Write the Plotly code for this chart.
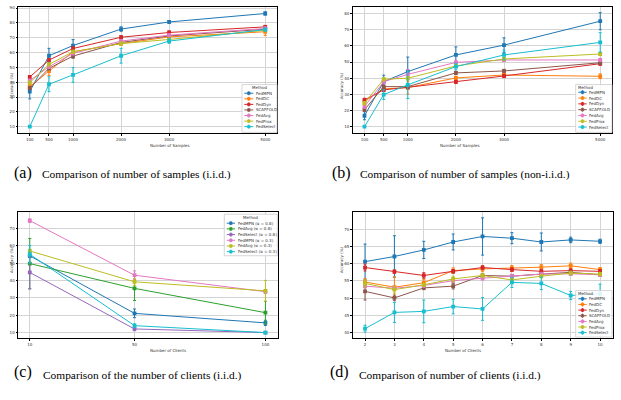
import plotly.graph_objects as go
from plotly.subplots import make_subplots

W, H = 621, 400

# ---------------- data ----------------
methods = ["FedMPN", "FedDC", "FedDyn", "SCAFFOLD", "FedAvg", "FedProx", "FedSelect"]
method_colors = ["#1f77b4", "#ff7f0e", "#d62728", "#8c564b", "#e377c2", "#bcbd22", "#17becf"]

samples = [100, 500, 1000, 2000, 3000, 5000]
sample_ticks = ["100", "500", "1000", "2000", "3000", "5000"]

# (a) i.i.d.
a_vals = {
    "FedMPN":    [33.7, 57.8, 64.7, 75.8, 80.6, 86.3],
    "FedDC":     [37.0, 47.5, 60.5, 66.0, 70.5, 74.0],
    "FedDyn":    [43.5, 54.9, 62.7, 70.3, 73.5, 77.3],
    "SCAFFOLD":  [36.0, 49.3, 57.6, 66.8, 71.2, 75.7],
    "FedAvg":    [41.0, 50.4, 59.4, 67.7, 71.7, 76.2],
    "FedProx":   [39.7, 52.0, 60.5, 66.0, 68.8, 75.0],
    "FedSelect": [10.0, 38.6, 44.9, 57.8, 67.7, 75.5],
}
a_err = {
    "FedMPN":    [5.0, 5.0, 4.0, 1.5, 1.0, 1.0],
    "FedDC":     [1.5, 3.0, 1.5, 1.0, 1.0, 2.5],
    "FedDyn":    [1.0, 1.0, 1.0, 1.0, 1.0, 1.0],
    "SCAFFOLD":  [1.0, 1.0, 1.5, 1.0, 1.0, 1.0],
    "FedAvg":    [1.0, 1.0, 1.0, 1.0, 1.0, 1.0],
    "FedProx":   [1.0, 1.0, 1.0, 1.0, 1.0, 1.0],
    "FedSelect": [0.5, 5.0, 5.0, 5.0, 1.5, 1.0],
}

# (b) non-i.i.d.
b_vals = {
    "FedMPN":    [16.8, 37.9, 44.1, 54.4, 60.5, 75.3],
    "FedDC":     [25.6, 33.4, 34.2, 40.2, 42.0, 41.2],
    "FedDyn":    [26.6, 32.8, 34.4, 37.7, 41.4, 49.0],
    "SCAFFOLD":  [20.5, 34.8, 34.8, 43.3, 44.5, 49.6],
    "FedAvg":    [22.5, 37.9, 42.4, 49.8, 51.3, 51.3],
    "FedProx":   [24.6, 39.4, 40.0, 47.6, 51.9, 55.0],
    "FedSelect": [10.0, 29.9, 35.9, 47.2, 54.4, 62.2],
}
b_err = {
    "FedMPN":    [2.5, 4.0, 9.0, 5.0, 4.5, 5.3],
    "FedDC":     [1.0, 1.0, 4.0, 1.0, 1.0, 1.5],
    "FedDyn":    [1.0, 1.0, 1.0, 1.0, 1.0, 1.0],
    "SCAFFOLD":  [1.0, 1.0, 1.0, 1.0, 1.0, 1.0],
    "FedAvg":    [1.0, 1.0, 3.0, 1.0, 1.0, 1.0],
    "FedProx":   [1.0, 1.0, 1.0, 1.0, 1.0, 1.0],
    "FedSelect": [0.5, 3.0, 8.5, 2.0, 3.0, 6.0],
}

# (c) number of clients, alpha variants
clients_c = [10, 50, 100]
c_names = ["FedMPN (α = 0.8)", "FedAvg (α = 0.8)", "FedSelect (α = 0.8)",
           "FedMPN (α = 0.3)", "FedAvg (α = 0.3)", "FedSelect (α = 0.3)"]
c_colors = ["#1f77b4", "#2ca02c", "#9467bd", "#e377c2", "#bcbd22", "#17becf"]
c_vals = [
    [54.3, 21.1, 15.6],
    [49.8, 35.5, 21.5],
    [44.7, 12.1, 10.0],
    [74.6, 43.1, 33.6],
    [57.1, 39.3, 34.1],
    [55.2, 14.0, 10.0],
]
c_err = [
    [1.0, 2.5, 1.5],
    [14.5, 7.0, 6.5],
    [9.5, 1.0, 0.5],
    [1.0, 2.5, 1.0],
    [1.0, 2.0, 6.0],
    [5.0, 1.0, 0.5],
]

# (d) number of clients
clients_d = [2, 3, 4, 5, 6, 7, 8, 9, 10]
d_vals = {
    "FedMPN":    [60.6, 62.1, 64.0, 66.3, 67.9, 67.4, 66.3, 66.9, 66.5],
    "FedDC":     [54.7, 53.2, 54.5, 58.0, 58.5, 58.7, 59.0, 59.4, 58.3],
    "FedDyn":    [58.9, 57.7, 56.6, 57.8, 58.9, 58.3, 57.8, 58.0, 57.8],
    "SCAFFOLD":  [52.0, 50.1, 53.0, 53.5, 56.6, 56.4, 57.0, 57.5, 56.8],
    "FedAvg":    [53.5, 52.9, 53.7, 55.1, 55.8, 56.4, 57.0, 57.1, 56.8],
    "FedProx":   [54.3, 52.5, 53.9, 55.6, 56.6, 55.3, 56.4, 57.3, 57.0],
    "FedSelect": [41.2, 45.9, 46.2, 47.6, 46.9, 54.6, 54.3, 50.8, 51.3],
}
d_err = {
    "FedMPN":    [5.1, 6.0, 2.5, 2.3, 5.4, 1.6, 2.6, 0.8, 0.6],
    "FedDC":     [1.0, 3.0, 1.0, 0.8, 0.8, 0.8, 0.8, 0.8, 0.6],
    "FedDyn":    [1.0, 0.5, 0.8, 0.5, 0.5, 0.5, 0.5, 0.5, 0.5],
    "SCAFFOLD":  [2.5, 0.8, 0.5, 0.8, 0.5, 0.5, 0.5, 0.5, 0.5],
    "FedAvg":    [0.5, 0.5, 0.5, 0.5, 0.5, 0.5, 0.5, 0.5, 0.5],
    "FedProx":   [1.0, 1.0, 0.5, 0.8, 0.5, 0.5, 0.5, 0.5, 0.5],
    "FedSelect": [1.0, 2.9, 3.3, 2.1, 3.3, 1.5, 1.8, 1.2, 2.8],
}

captions = [
    ("(a)", "Comparison of number of samples (i.i.d.)"),
    ("(b)", "Comparison of number of samples (non-i.i.d.)"),
    ("(c)", "Comparison of the number of clients (i.i.d.)"),
    ("(d)", "Comparison of number of clients (i.i.d.)"),
]

# ---------------- figure ----------------
def px(x):
    return x / W

def py(y):
    return 1 - y / H

fig = make_subplots(rows=2, cols=2)

FONT = "DejaVu Sans"


def add_series(x, y, e, color, row, col):
    fig.add_trace(go.Scatter(
        x=x, y=y, mode="lines+markers", showlegend=False,
        line=dict(color=color, width=1),
        marker=dict(color=color, size=3.8, symbol="square"),
        error_y=dict(type="data", array=e, color=color, thickness=1, width=1.5),
    ), row=row, col=col)


for m, c in zip(methods, method_colors):
    add_series(samples, a_vals[m], a_err[m], c, 1, 1)
    add_series(samples, b_vals[m], b_err[m], c, 1, 2)
    add_series(clients_d, d_vals[m], d_err[m], c, 2, 2)
for v, e, c in zip(c_vals, c_err, c_colors):
    add_series(clients_c, v, e, c, 2, 1)

# axes layout (pixel boxes)
boxes = {
    (1, 1): (18, 277, 5, 132),
    (1, 2): (352.7, 612, 5, 132),
    (2, 1): (18, 278, 211, 338),
    (2, 2): (352.7, 612.7, 211, 338),
}
xranges = {(1, 1): [-145, 5245], (1, 2): [-145, 5245], (2, 1): [5.5, 104.8], (2, 2): [1.58, 10.43]}
yranges = {(1, 1): [5.5, 90.7], (1, 2): [5.9, 84.1], (2, 1): [6.7, 79.6], (2, 2): [38.4, 75.0]}
xticks = {(1, 1): (samples, sample_ticks), (1, 2): (samples, sample_ticks),
          (2, 1): (clients_c, [str(v) for v in clients_c]),
          (2, 2): (clients_d, [str(v) for v in clients_d])}
yticks = {(1, 1): list(range(10, 91, 10)), (1, 2): list(range(10, 81, 10)),
          (2, 1): list(range(10, 71, 10)), (2, 2): list(range(40, 71, 5))}
xtitles = {(1, 1): "Number of Samples", (1, 2): "Number of Samples",
           (2, 1): "Number of Clients", (2, 2): "Number of Clients"}

axis_common = dict(showline=True, linecolor="black", linewidth=1, mirror=True,
                   showgrid=True, gridcolor="#d4d4d4", gridwidth=1,
                   ticks="outside", ticklen=1.5, tickwidth=0.6, tickcolor="black",
                   tickfont=dict(size=4, family=FONT, color="#333"), zeroline=False)

for (r, cc), (x0, x1, y0, y1) in boxes.items():
    fig.update_xaxes(domain=[px(x0), px(x1)], range=xranges[(r, cc)],
                     tickvals=xticks[(r, cc)][0], ticktext=xticks[(r, cc)][1],
                     row=r, col=cc, **axis_common)
    fig.update_yaxes(domain=[py(y1), py(y0)], range=yranges[(r, cc)],
                     tickvals=yticks[(r, cc)], row=r, col=cc, **axis_common)
    # axis titles
    fig.add_annotation(x=px((x0 + x1) / 2), y=py(y1 + 12), xref="paper", yref="paper",
                       text=xtitles[(r, cc)], showarrow=False, yanchor="middle",
                       font=dict(size=4, family=FONT, color="#333"))
    fig.add_annotation(x=px(x0 - 11), y=py((y0 + y1) / 2), xref="paper", yref="paper",
                       text="Accuracy (%)", textangle=-90, showarrow=False,
                       font=dict(size=4, family=FONT, color="#333"))

# captions
cap_pos = [(12, 40, 172), (330, 358, 172), (12, 41, 383), (328, 357, 383)]
for (lab, txt), (xl, xt, yc) in zip(captions, cap_pos):
    fig.add_annotation(x=px(xl), y=py(yc), xref="paper", yref="paper", xanchor="left",
                       text=lab, showarrow=False,
                       font=dict(size=16, family="Liberation Serif", color="black"))
    fig.add_annotation(x=px(xt), y=py(yc + 1), xref="paper", yref="paper", xanchor="left",
                       text=txt, showarrow=False,
                       font=dict(size=11.4, family="Liberation Serif", color="black"))


# custom compact legends (matplotlib-style)
def add_legend(box, names, colors, title_y, first_y, dy, lx0, lx1, tx):
    bx0, bx1, by0, by1 = box
    fig.add_shape(type="rect", xref="paper", yref="paper",
                  x0=px(bx0), x1=px(bx1), y0=py(by1), y1=py(by0),
                  line=dict(color="#cccccc", width=0.8), fillcolor="rgba(255,255,255,0.85)")
    fig.add_annotation(x=px((bx0 + bx1) / 2), y=py(title_y), xref="paper", yref="paper",
                       text="Method", showarrow=False, yanchor="middle", borderpad=0,
                       font=dict(size=4, family=FONT, color="#333"))
    for i, (n, c) in enumerate(zip(names, colors)):
        yy = first_y + i * dy
        fig.add_shape(type="line", xref="paper", yref="paper",
                      x0=px(lx0), x1=px(lx1), y0=py(yy), y1=py(yy),
                      line=dict(color=c, width=1))
        xm = (lx0 + lx1) / 2
        fig.add_shape(type="line", xref="paper", yref="paper",
                      x0=px(xm), x1=px(xm), y0=py(yy - 2), y1=py(yy + 2),
                      line=dict(color=c, width=1))
        fig.add_shape(type="rect", xref="paper", yref="paper",
                      x0=px(xm - 1.3), x1=px(xm + 1.3), y0=py(yy + 1.3), y1=py(yy - 1.3),
                      line=dict(color=c, width=0.5), fillcolor=c)
        fig.add_annotation(x=px(tx), y=py(yy), xref="paper", yref="paper", xanchor="left",
                           yanchor="middle", borderpad=0,
                           text=n, showarrow=False,
                           font=dict(size=4, family=FONT, color="#333"))


add_legend((242, 277, 83, 131), methods, method_colors, 86, 91.7, 5.6, 244.3, 253.3, 255)
add_legend((575.7, 612, 83, 131), methods, method_colors, 86, 90.7, 5.83, 578.3, 586.7, 588.3)
add_legend((224.3, 277.3, 213.3, 255), c_names, c_colors, 216.7, 222.3, 5.73, 226.7, 235, 236.7)
add_legend((575.7, 612, 290, 336.7), methods, method_colors, 292.7, 298.3, 5.67, 578.3, 586.7, 588.3)

fig.update_layout(width=W, height=H, margin=dict(l=0, r=0, t=0, b=0),
                  paper_bgcolor="white", plot_bgcolor="white",
                  font=dict(family=FONT), showlegend=False)

fig.write_html("out.html", config={"displayModeBar": False},
               post_script="document.body.style.margin='0px';document.body.style.overflow='hidden';")
